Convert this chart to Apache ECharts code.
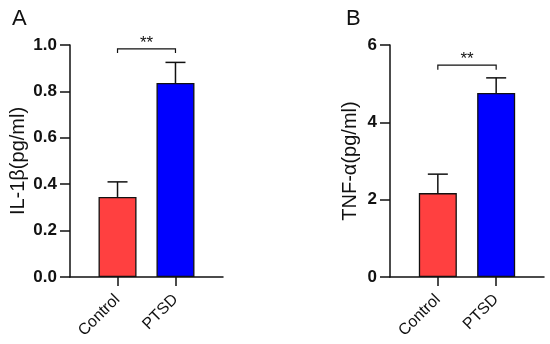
<!DOCTYPE html>
<html>
<head>
<meta charset="utf-8">
<script src="https://cdn.jsdelivr.net/npm/echarts@6/dist/echarts.min.js"></script>
<style>html,body{margin:0;padding:0;background:#fff}#c{width:550px;height:344px}</style>
</head>
<body>
<div id="c"></div>
<script>
var categories = ['Control', 'PTSD'];
var barColors = ['#FF4040', '#0000FF'];
var il1bMean = [0.345, 0.836];
var il1bSem = [0.065, 0.089];
var tnfMean = [2.17, 4.76];
var tnfSem = [0.49, 0.39];
var il1bTicks = [0, 0.2, 0.4, 0.6, 0.8, 1.0];
var tnfTicks = [0, 2, 4, 6];
var sigLabel = '**';
var il1bBracket = [0.983, 0.966];
var tnfBracket = [5.48, 5.36];

var chart = echarts.init(document.getElementById('c'));
var FONT = 'Liberation Sans, Arial, sans-serif';

function barData(means) {
  return means.map(function (v, i) {
    return { value: [i, v], itemStyle: { color: barColors[i] } };
  });
}
function errData(means, sems) {
  return means.map(function (v, i) { return [i, v, v + sems[i]]; });
}
function errRender(params, api) {
  var x = api.value(0);
  var p0 = api.coord([x, api.value(1)]);
  var p1 = api.coord([x, api.value(2)]);
  var half = 10;
  var st = { stroke: '#111', lineWidth: 1.5 };
  return { type: 'group', children: [
    { type: 'line', shape: { x1: p0[0], y1: p0[1], x2: p1[0], y2: p1[1] }, style: st },
    { type: 'line', shape: { x1: p1[0] - half, y1: p1[1], x2: p1[0] + half, y2: p1[1] }, style: st }
  ]};
}
function bracketRender(params, api) {
  var yTop = api.value(2), yLow = api.value(3);
  var a = api.coord([api.value(0), yTop]);
  var b = api.coord([api.value(1), yTop]);
  var a2 = api.coord([api.value(0), yLow]);
  var b2 = api.coord([api.value(1), yLow]);
  var st = { stroke: '#111', lineWidth: 1.2, fill: null };
  return { type: 'group', children: [
    { type: 'polyline', shape: { points: [[a2[0], a2[1]], [a[0], a[1]], [b[0], b[1]], [b2[0], b2[1]]] }, style: st },
    { type: 'text', style: { text: sigLabel, x: (a[0] + b[0]) / 2, y: a[1] + 3, align: 'center', verticalAlign: 'bottom', fill: '#111', font: '17px ' + FONT } }
  ]};
}

function xAxisDef(gridIndex) {
  return {
    type: 'value', gridIndex: gridIndex, min: -0.82, max: 1.82,
    splitLine: { show: false },
    axisLine: { show: true, onZero: false, lineStyle: { color: '#111', width: 1.5 } },
    axisTick: { show: true, length: 9, customValues: [0, 1], lineStyle: { color: '#111', width: 1.5 } },
    axisLabel: { show: true, customValues: [0, 1], rotate: 45, margin: 20, color: '#111', fontSize: 16, fontFamily: FONT,
      formatter: function (v) { return categories[Math.round(v)]; } }
  };
}
function yAxisDef(gridIndex, max, interval, name, digits, gap) {
  return {
    type: 'value', gridIndex: gridIndex, min: 0, max: max, interval: interval,
    name: name, nameLocation: 'middle', nameGap: gap,
    nameTextStyle: { color: '#111', fontSize: 20, fontFamily: FONT },
    splitLine: { show: false },
    axisLine: { show: true, onZero: false, lineStyle: { color: '#111', width: 1.5 } },
    axisTick: { show: true, length: 10, lineStyle: { color: '#111', width: 1.5 } },
    axisLabel: { margin: 13, color: '#111', fontSize: 17, fontWeight: 'bold', fontFamily: FONT,
      formatter: function (v) { return v.toFixed(digits); } }
  };
}

chart.setOption({
  animation: false,
  backgroundColor: '#fff',
  title: [
    { text: 'A', left: 7, top: 3, textStyle: { fontSize: 22, fontWeight: 'normal', color: '#111', fontFamily: FONT } },
    { text: 'B', left: 341, top: 3, textStyle: { fontSize: 22, fontWeight: 'normal', color: '#111', fontFamily: FONT } }
  ],
  grid: [
    { left: 70, right: 327, top: 45, bottom: 67 },
    { left: 390, right: 6, top: 45, bottom: 67 }
  ],
  xAxis: [xAxisDef(0), xAxisDef(1)],
  yAxis: [yAxisDef(0, 1, 0.2, 'IL-1β(pg/ml)', 1, 42), yAxisDef(1, 6, 2, 'TNF-α(pg/ml)', 0, 30)],
  series: [
    { type: 'bar', xAxisIndex: 0, yAxisIndex: 0, barWidth: 38, data: barData(il1bMean),
      itemStyle: { borderColor: '#111', borderWidth: 1.3 } },
    { type: 'custom', xAxisIndex: 0, yAxisIndex: 0, renderItem: errRender, data: errData(il1bMean, il1bSem), z: 1 },
    { type: 'custom', xAxisIndex: 0, yAxisIndex: 0, renderItem: bracketRender, data: [[0, 1, il1bBracket[0], il1bBracket[1]]] },
    { type: 'bar', xAxisIndex: 1, yAxisIndex: 1, barWidth: 38, data: barData(tnfMean),
      itemStyle: { borderColor: '#111', borderWidth: 1.3 } },
    { type: 'custom', xAxisIndex: 1, yAxisIndex: 1, renderItem: errRender, data: errData(tnfMean, tnfSem), z: 1 },
    { type: 'custom', xAxisIndex: 1, yAxisIndex: 1, renderItem: bracketRender, data: [[0, 1, tnfBracket[0], tnfBracket[1]]] }
  ]
});
</script>
</body>
</html>
